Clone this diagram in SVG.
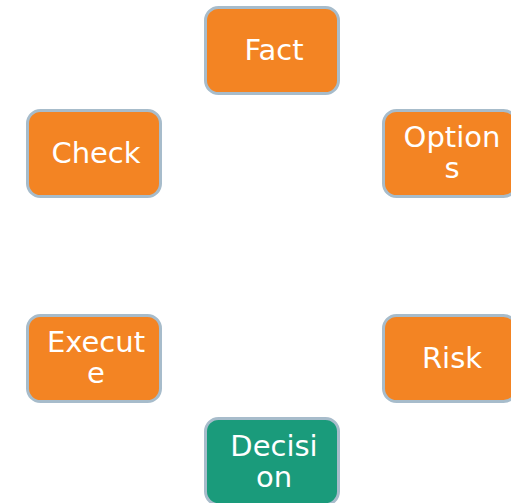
<svg xmlns="http://www.w3.org/2000/svg" width="511" height="503" viewBox="0 0 511 503">
<style>
.box{fill:#f38423;stroke:#a7bccb;stroke-width:3}
.green{fill:#1a9b7b}
.t{font-family:"DejaVu Sans",sans-serif;font-size:29px;fill:#ffffff;text-anchor:middle}
</style>
<g id="connectors"></g>
<g id="fact"><rect class="box" x="205.5" y="7.5" width="133" height="86" rx="13"/><text class="t" x="274" y="60">Fact</text></g>
<g id="check"><rect class="box" x="27.5" y="110.5" width="133" height="86" rx="13"/><text class="t" x="96" y="163">Check</text></g>
<g id="options"><rect class="box" x="383.5" y="110.5" width="133" height="86" rx="13"/><text class="t" x="452" y="147">Option</text><text class="t" x="452" y="178">s</text></g>
<g id="execute"><rect class="box" x="27.5" y="315.5" width="133" height="86" rx="13"/><text class="t" x="96" y="352">Execut</text><text class="t" x="96" y="383">e</text></g>
<g id="risk"><rect class="box" x="383.5" y="315.5" width="133" height="86" rx="13"/><text class="t" x="452" y="368">Risk</text></g>
<g id="decision"><rect class="box green" x="205.5" y="418.5" width="133" height="86" rx="13"/><text class="t" x="274" y="456">Decisi</text><text class="t" x="274" y="487">on</text></g>
</svg>
